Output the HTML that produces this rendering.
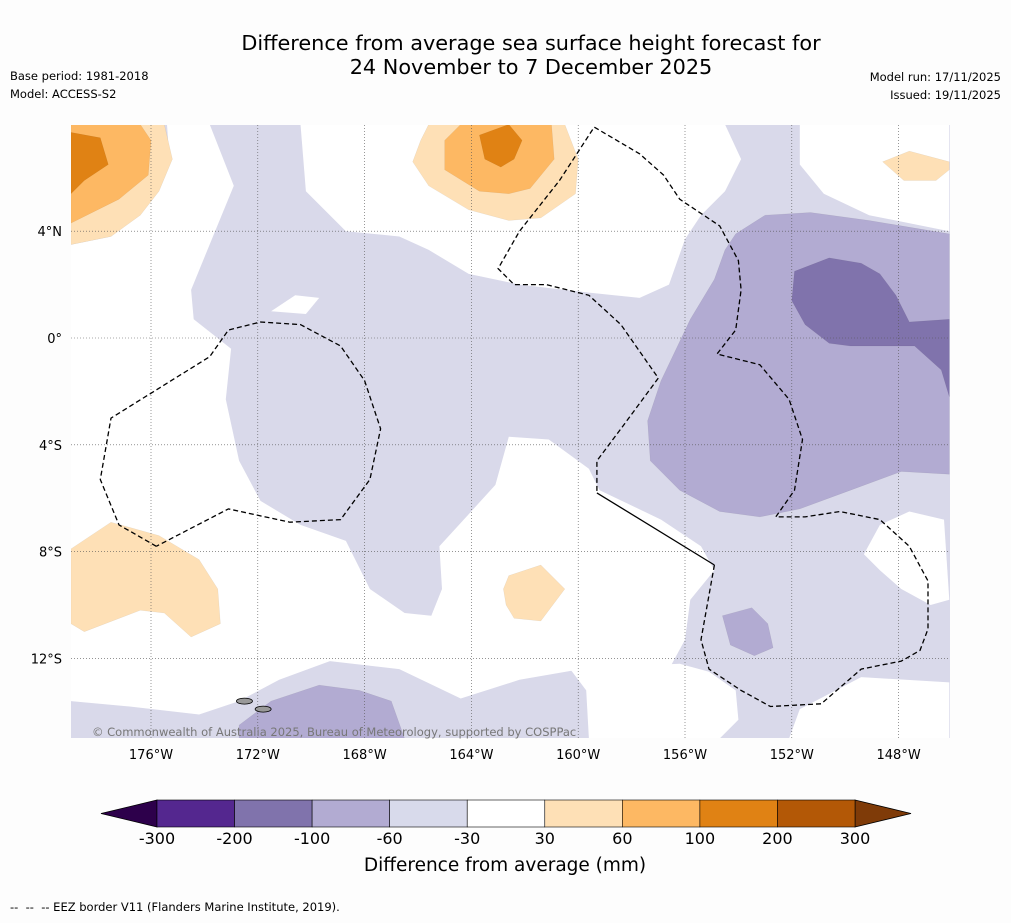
<!DOCTYPE html>
<html><head><meta charset="utf-8"><title>Sea surface height forecast map</title>
<style>
html,body{margin:0;padding:0;background:#fdfdfd;}
body{width:1011px;height:919px;overflow:hidden;font-family:"DejaVu Sans","Liberation Sans",sans-serif;}
svg text{font-family:"DejaVu Sans","Liberation Sans",sans-serif;}
</style></head>
<body>
<svg id="chart" width="1011" height="919" viewBox="0 0 1011 919" xmlns="http://www.w3.org/2000/svg">
<text x="531" y="50" font-size="20.8" text-anchor="middle" fill="#000">Difference from average sea surface height forecast for</text>
<text x="531" y="74" font-size="20.8" text-anchor="middle" fill="#000">24 November to 7 December 2025</text>
<text x="10" y="80" font-size="11.5">Base period: 1981-2018</text>
<text x="10" y="98" font-size="11.5">Model: ACCESS-S2</text>
<text x="1001" y="81" font-size="11.5" text-anchor="end">Model run: 17/11/2025</text>
<text x="1001" y="99" font-size="11.5" text-anchor="end">Issued: 19/11/2025</text>
<defs><clipPath id="mapclip"><rect x="71" y="125" width="879" height="613"/></clipPath></defs>
<rect x="71" y="125" width="879" height="613" fill="#d9d9ea"/>
<g id="contours" clip-path="url(#mapclip)"></g>
<g id="grid" clip-path="url(#mapclip)"></g>
<g id="eez" clip-path="url(#mapclip)"></g>
<g id="ticks"></g>
<text x="92" y="736" font-size="11.5" fill="#777">© Commonwealth of Australia 2025, Bureau of Meteorology, supported by COSPPac</text>
<g id="colorbar"></g>
<text x="505" y="871" font-size="18.5" text-anchor="middle">Difference from average (mm)</text>
<text x="10" y="911" font-size="11.5" xml:space="preserve">--  --  -- EEZ border V11 (Flanders Marine Institute, 2019).</text>
</svg>
<script>
// ---- data ----
const lonTicks = [-176,-172,-168,-164,-160,-156,-152,-148];
const latTicks = [4,0,-4,-8,-12];
const cbBounds = [-300,-200,-100,-60,-30,30,60,100,200,300];
const cbColors = ['#54278f','#8073ac','#b2abd2','#d8daeb','#ffffff','#fee0b6','#fdb863','#e08214','#b35806'];
const cbExtendLow = '#2d004b';
const cbExtendHigh = '#7f3b08';
const whiteMain = [[-179.0,3.5],[-177.5,3.8],[-176.0,5.2],[-175.3,6.5],[-175.4,8.0],[-173.8,8.0],[-172.9,5.7],[-173.6,4.0],[-174.5,1.8],[-174.4,0.7],[-173.0,-0.4],[-173.2,-2.3],[-172.7,-4.6],[-171.9,-6.1],[-170.4,-7.0],[-168.7,-7.6],[-167.8,-9.4],[-166.5,-10.3],[-165.5,-10.4],[-165.1,-9.4],[-165.2,-7.8],[-164.1,-6.6],[-163.1,-5.5],[-162.6,-3.7],[-161.1,-3.8],[-159.6,-4.9],[-159.2,-5.7],[-156.9,-6.8],[-155.4,-7.8],[-154.9,-8.7],[-155.8,-9.8],[-156.0,-11.3],[-156.6,-12.4],[-159.9,-12.4],[-162.2,-12.8],[-164.4,-13.5],[-166.7,-12.4],[-169.3,-12.1],[-171.2,-12.8],[-172.7,-13.6],[-174.2,-14.1],[-176.8,-13.8],[-179.0,-13.6]];
const whiteBottomMid = [[-160.3,-12.4],[-159.7,-13.2],[-159.6,-15.0],[-154.7,-15.0],[-154.0,-14.3],[-154.1,-13.2],[-155.1,-12.5],[-156.2,-12.2]];
const whiteBottomRight = [[-152.1,-15.0],[-151.7,-13.9],[-149.4,-12.7],[-146.1,-12.9],[-146.1,-15.0]];
const whiteTop = [[-170.4,8.0],[-170.2,5.5],[-168.7,4.0],[-166.7,3.8],[-165.6,3.3],[-164.1,2.4],[-162.2,2.0],[-159.6,1.7],[-157.7,1.5],[-156.6,2.0],[-156.0,3.7],[-155.4,4.6],[-154.5,5.5],[-153.9,6.7],[-154.5,8.0]];
const whiteTopRight = [[-151.7,8.0],[-151.7,6.5],[-150.8,5.4],[-149.1,4.6],[-146.1,4.0],[-146.1,8.0]];
const whiteHoleRight = [[-149.3,-8.1],[-148.7,-7.0],[-147.6,-6.5],[-146.3,-6.8],[-146.1,-9.8],[-146.8,-10.0],[-147.9,-9.4],[-148.7,-8.7]];
const whiteHoleSmall = [[-171.5,1.0],[-170.6,1.6],[-169.7,1.5],[-170.2,0.9]];
const orangeTLLight = [[-179.0,8.0],[-175.5,8.0],[-175.2,6.7],[-175.7,5.5],[-176.4,4.6],[-177.5,3.8],[-179.0,3.5]];
const orangeTLMid = [[-179.0,8.0],[-176.4,8.0],[-176.0,7.4],[-176.1,6.1],[-177.2,5.2],[-179.0,4.3]];
const orangeTLDark = [[-179.0,7.7],[-177.9,7.5],[-177.6,6.5],[-178.5,5.9],[-179.0,5.4]];
const orangeTCLight = [[-165.6,8.0],[-160.5,8.0],[-160.0,6.7],[-160.1,5.4],[-161.4,4.5],[-162.6,4.4],[-164.1,4.8],[-165.6,5.7],[-166.2,6.6],[-165.9,7.4]];
const orangeTCMid = [[-164.4,8.0],[-161.0,8.0],[-160.9,6.7],[-161.8,5.6],[-162.6,5.4],[-163.7,5.5],[-165.0,6.3],[-165.0,7.4]];
const orangeTCDark = [[-163.7,7.6],[-162.6,8.0],[-162.1,7.4],[-162.4,6.7],[-162.9,6.4],[-163.5,6.7]];
const orangeTRLight = [[-148.6,6.6],[-147.6,7.0],[-146.1,6.6],[-146.1,6.3],[-146.6,5.9],[-147.8,5.9]];
const orangeBLLight = [[-179.0,-7.9],[-177.5,-6.9],[-175.7,-7.4],[-174.2,-8.3],[-173.5,-9.4],[-173.4,-10.7],[-174.5,-11.2],[-175.5,-10.3],[-176.4,-10.2],[-178.5,-11.0],[-179.0,-10.7]];
const orangeCLight = [[-162.8,-9.4],[-162.6,-8.9],[-161.4,-8.5],[-160.5,-9.4],[-161.4,-10.6],[-162.4,-10.5],[-162.7,-10.0]];
const purpleRight = [[-154.1,3.9],[-153.0,4.6],[-151.3,4.7],[-149.1,4.4],[-146.1,3.9],[-146.1,3.2],[-146.1,-5.1],[-147.9,-5.0],[-149.8,-5.7],[-151.7,-6.4],[-153.2,-6.7],[-154.7,-6.5],[-156.2,-5.7],[-157.3,-4.6],[-157.4,-3.1],[-156.9,-1.6],[-155.8,0.7],[-154.9,2.2],[-154.5,3.3]];
const purpleBL = [[-172.7,-14.5],[-171.5,-13.6],[-169.7,-13.0],[-168.2,-13.2],[-167.0,-13.6],[-166.5,-15.0],[-172.7,-15.0]];
const purpleSmall = [[-154.6,-10.4],[-153.5,-10.1],[-152.9,-10.7],[-152.7,-11.6],[-153.4,-11.9],[-154.3,-11.5]];
const darkPurple = [[-151.9,2.5],[-150.6,3.0],[-149.4,2.8],[-148.7,2.4],[-148.1,1.6],[-147.6,0.6],[-146.1,0.7],[-146.1,-2.2],[-146.4,-1.2],[-147.4,-0.3],[-149.8,-0.3],[-150.6,-0.2],[-151.5,0.5],[-152.0,1.4]];
const eezLoopWest = [[-175.8,-7.8],[-177.2,-7.0],[-177.9,-5.3],[-177.5,-3.0],[-173.8,-0.7],[-173.1,0.3],[-171.9,0.6],[-170.4,0.5],[-168.9,-0.3],[-168.0,-1.6],[-167.4,-3.4],[-167.8,-5.3],[-168.9,-6.8],[-170.8,-6.9],[-173.1,-6.4],[-175.8,-7.8]];
const eezLoopEast = [[-154.9,-8.5],[-155.4,-11.3],[-155.1,-12.4],[-153.9,-13.2],[-152.8,-13.8],[-150.9,-13.7],[-149.4,-12.4],[-147.9,-12.1],[-147.2,-11.7],[-146.9,-10.9],[-146.9,-9.1],[-147.6,-7.8],[-148.7,-6.8],[-150.2,-6.5],[-151.5,-6.7],[-152.6,-6.7],[-151.9,-5.7],[-151.6,-3.8],[-152.1,-2.3],[-153.2,-1.0],[-154.8,-0.6],[-154.1,0.3],[-153.9,1.8],[-154.0,2.9],[-154.7,4.2],[-156.2,5.2],[-156.8,6.1],[-157.7,6.9],[-159.4,7.9],[-160.7,5.9],[-162.2,4.0],[-163.0,2.6],[-162.4,2.0],[-161.2,2.0],[-159.6,1.6],[-158.4,0.5],[-157.0,-1.5],[-158.4,-3.4],[-159.3,-4.6],[-159.3,-5.8]];
const boundarySolid = [[-159.3,-5.8],[-154.9,-8.5]];
const islands = [[-172.5,-13.6],[-171.8,-13.9]];

// ---- axes ----
const X0=151, LON0=-176, PXDEG=26.7, Y0=338;
function xOf(lon){return X0+(lon-LON0)*PXDEG;}
function yOf(lat){return Y0-lat*PXDEG;}
const NS='http://www.w3.org/2000/svg';
function mk(tag,attrs,parent){const e=document.createElementNS(NS,tag);for(const k in attrs)e.setAttribute(k,attrs[k]);parent.appendChild(e);return e;}
function pts(arr){return arr.map(p=>xOf(p[0]).toFixed(1)+','+yOf(p[1]).toFixed(1)).join(' ');}

const cont=document.getElementById('contours');
const shapes=[
 [whiteMain,'#ffffff','contour-neutral-west'],[whiteBottomMid,'#ffffff','contour-neutral-south'],[whiteBottomRight,'#ffffff','contour-neutral-southeast'],
 [whiteTop,'#ffffff','contour-neutral-north'],[whiteTopRight,'#ffffff','contour-neutral-northeast'],[whiteHoleRight,'#ffffff','contour-neutral-east-hole'],[whiteHoleSmall,'#ffffff','contour-neutral-small'],
 [orangeTLLight,'#fee0b6','contour-high-30-nw'],[orangeTLMid,'#fdb863','contour-high-60-nw'],[orangeTLDark,'#e08214','contour-high-100-nw'],
 [orangeTCLight,'#fee0b6','contour-high-30-n'],[orangeTCMid,'#fdb863','contour-high-60-n'],[orangeTCDark,'#e08214','contour-high-100-n'],
 [orangeTRLight,'#fee0b6','contour-high-30-ne'],[orangeBLLight,'#fee0b6','contour-high-30-sw'],[orangeCLight,'#fee0b6','contour-high-30-s'],
 [purpleRight,'#b2abd2','contour-low-60-east'],[purpleBL,'#b2abd2','contour-low-60-south'],[purpleSmall,'#b2abd2','contour-low-60-small'],
 [darkPurple,'#8073ac','contour-low-100-east']
];
shapes.forEach(s=>{
 const e=mk('polygon',{points:pts(s[0]),fill:s[1],stroke:s[1]==='#ffffff'?'none':'rgba(0,0,0,0.08)','stroke-width':0.5},cont);
 
 
});
islands.forEach((p,i)=>{
 const e=mk('ellipse',{cx:xOf(p[0]),cy:yOf(p[1]),rx:8,ry:3,fill:'#999',stroke:'#000','stroke-width':0.8},cont);
 
 
});

const grid=document.getElementById('grid');
const ticks=document.getElementById('ticks');
lonTicks.forEach(l=>{
 const x=xOf(l);
 const g=mk('line',{x1:x,x2:x,y1:125,y2:738,stroke:'#555','stroke-width':0.6,'stroke-dasharray':'1,2'},grid);
 
 
 const t=mk('text',{x:x,y:759,'font-size':13,'text-anchor':'middle'},ticks);
 t.textContent=Math.abs(l)+'°W';
 
 
});
latTicks.forEach(l=>{
 const y=yOf(l);
 const g=mk('line',{x1:71,x2:950,y1:y,y2:y,stroke:'#555','stroke-width':0.6,'stroke-dasharray':'1,2'},grid);
 
 
 const t=mk('text',{x:62,y:y+5,'font-size':13,'text-anchor':'end'},ticks);
 t.textContent=l===0?'0°':Math.abs(l)+'°'+(l>0?'N':'S');
 
 
});

const eez=document.getElementById('eez');
[eezLoopWest,eezLoopEast].forEach(a=>{
 const e=mk('polyline',{points:pts(a),fill:'none',stroke:'#000','stroke-width':1.3,'stroke-dasharray':'5,3'},eez);
 
 
});
const sb=mk('polyline',{points:pts(boundarySolid),fill:'none',stroke:'#000','stroke-width':1.3},eez);



// colorbar
const cb=document.getElementById('colorbar');
const CBX=157, CBW=698, CBY=800, CBH=27, TIP=56;
const n=cbColors.length, bw=CBW/n;
function cbx(i){return CBX+i*bw;}
const lo=mk('polygon',{points:`${CBX},${CBY} ${CBX-TIP},${CBY+CBH/2} ${CBX},${CBY+CBH}`,fill:cbExtendLow,stroke:'#000','stroke-width':0.8},cb);


const hi=mk('polygon',{points:`${CBX+CBW},${CBY} ${CBX+CBW+TIP},${CBY+CBH/2} ${CBX+CBW},${CBY+CBH}`,fill:cbExtendHigh,stroke:'#000','stroke-width':0.8},cb);


cbColors.forEach((c,i)=>{
 const r=mk('rect',{x:cbx(i),y:CBY,width:bw,height:CBH,fill:c,stroke:'#000','stroke-width':0.6},cb);
 
 
});
cbBounds.forEach((b,i)=>{
 const t=mk('text',{x:cbx(i),y:844,'font-size':16,'text-anchor':'middle'},cb);
 t.textContent=b;
 
 
});
</script>
</body></html>
